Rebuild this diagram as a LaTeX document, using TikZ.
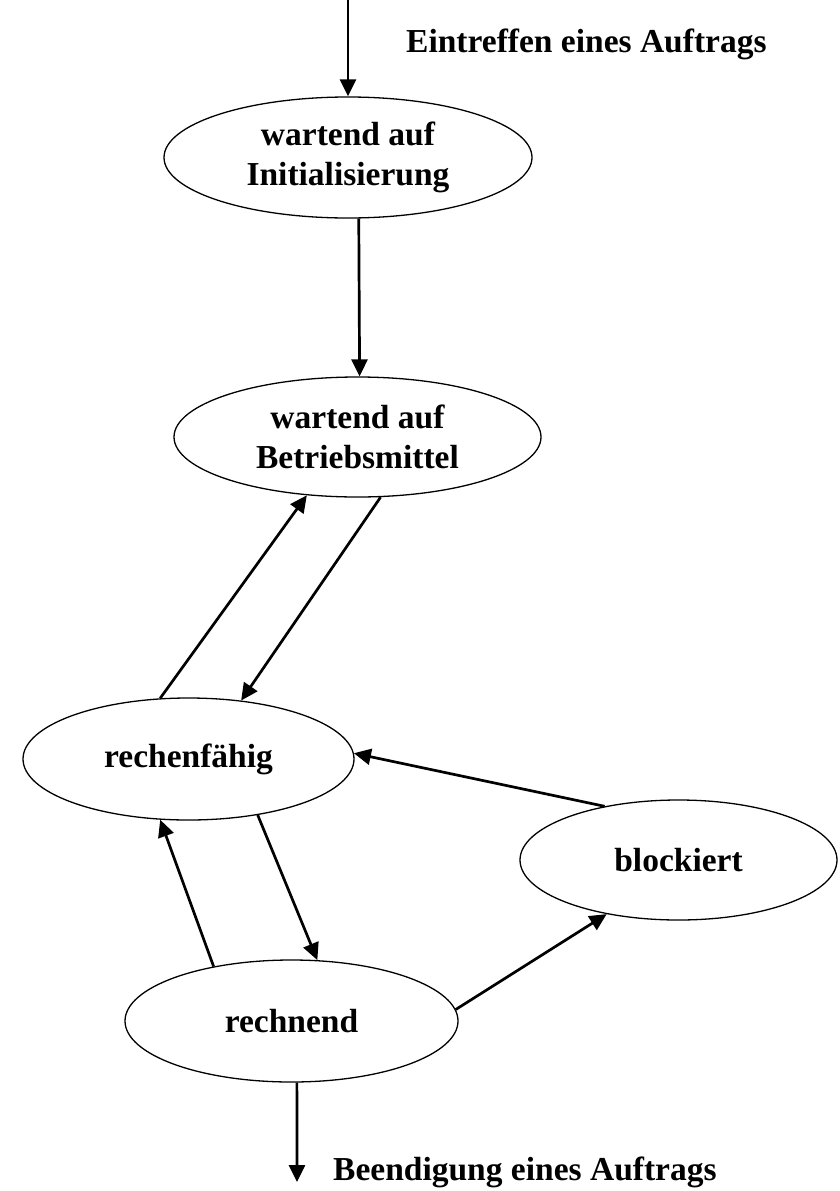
\documentclass[tikz,border=0pt]{standalone}
\usepackage{fontspec}
\setmainfont{Liberation Serif}
\usetikzlibrary{shapes.geometric,arrows.meta}

\tikzset{
  state/.style={draw, ellipse, line width=1.3pt, inner sep=0pt,
    align=center, font=\bfseries\fontsize{33.5}{40}\selectfont},
  label text/.style={inner sep=0pt, anchor=base west,
    font=\bfseries\fontsize{33.5}{40}\selectfont},
  trans/.style={line width=2.7pt,
    -{Triangle[length=17pt,width=16pt]}, shorten >=0pt}
}

\begin{document}
\begin{tikzpicture}[x=1pt, y=-1pt]
  \useasboundingbox (0,0) rectangle (840,1191);
  \fill[white] (0,0) rectangle (840,1191);

  % states
  \node[state, minimum width=368pt, minimum height=121pt] (init) at (348,157.5)
    {wartend auf\\Initialisierung};
  \node[state, minimum width=367pt, minimum height=120pt] (betr) at (357.5,437)
    {wartend auf\\Betriebsmittel};
  \node[state, minimum width=331pt, minimum height=122pt] (bereit) at (188.5,759)
    {rechenfähig};
  \node[state, minimum width=317pt, minimum height=120pt] (block) at (678.5,860)
    {blockiert};
  \node[state, minimum width=333pt, minimum height=122pt] (rech) at (291.5,1021)
    {rechnend};

  % entry and exit
  \coordinate (ein) at (348,0);
  \coordinate (aus) at (297,1182);
  \node[label text] (einlabel) at (406,52) {Eintreffen eines Auftrags};
  \node[label text] (auslabel) at (333,1180) {Beendigung eines Auftrags};

  % transitions
  \draw[trans] (ein) -- (init.north);
  \draw[trans] (init.-80) -- (betr.88);
  \draw[trans] (bereit.115) -- (betr.-131);
  \draw[trans] (betr.-69) -- (bereit.48);
  \draw[trans] (block.144) -- (bereit.2);
  \draw[trans] (bereit.-39) -- (rech.67);
  \draw[trans] (rech.145) -- (bereit.-115);
  \draw[trans] (rech.4) -- (block.-143);
  \draw[trans] (rech.-85) -- (aus);
\end{tikzpicture}
\end{document}
